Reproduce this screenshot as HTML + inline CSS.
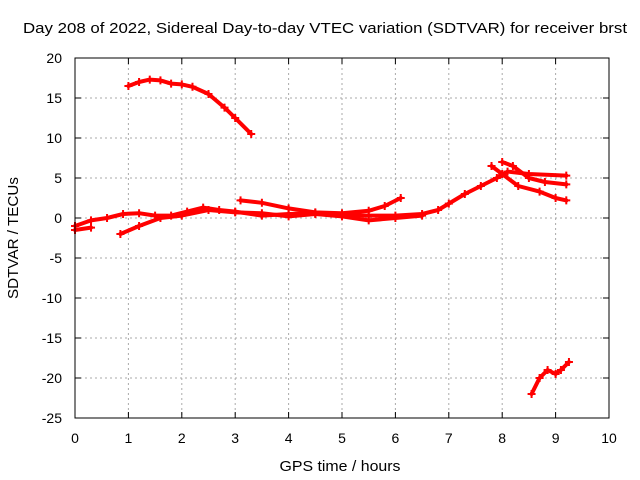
<!DOCTYPE html>
<html><head><meta charset="utf-8"><style>
html,body{margin:0;padding:0;background:#fff}
svg{display:block;font-family:"Liberation Sans",sans-serif}
</style></head><body>
<svg id="chart" width="640" height="480" viewBox="0 0 640 480">
<rect width="640" height="480" fill="#fff"/>
<g id="grid"></g>
<g id="series"></g>
<rect x="75" y="58" width="534" height="360" fill="none" stroke="#000" stroke-width="1"/>
<g id="ticks"></g>
<text x="325" y="33" text-anchor="middle" font-size="15" textLength="604" lengthAdjust="spacingAndGlyphs">Day 208 of 2022, Sidereal Day-to-day VTEC variation (SDTVAR) for receiver brst</text>
<text x="340" y="471" text-anchor="middle" font-size="15" textLength="121" lengthAdjust="spacingAndGlyphs">GPS time / hours</text>
<text transform="translate(18,238) rotate(-90)" text-anchor="middle" font-size="15" textLength="122" lengthAdjust="spacingAndGlyphs">SDTVAR / TECUs</text>
</svg>
<script>
const xTicks=[0,1,2,3,4,5,6,7,8,9,10];
const yTicks=[20,15,10,5,0,-5,-10,-15,-20,-25];
const trackTop=[[1.0,16.5],[1.2,17],[1.4,17.3],[1.6,17.2],[1.8,16.8],[2.0,16.7],[2.2,16.4],[2.5,15.5],[2.8,13.8],[3.0,12.5],[3.3,10.5]];
const trackMain=[[0,-1],[0.3,-0.3],[0.6,0],[0.9,0.5],[1.2,0.6],[1.5,0.3],[1.8,0.3],[2.1,0.8],[2.4,1.3],[2.7,1],[3,0.8],[3.5,0.3],[4,0.5],[4.5,0.6],[5,0.4],[5.5,0.3],[6,0.3],[6.5,0.5],[6.8,1],[7,1.8],[7.3,3],[7.6,4],[7.9,5],[8.1,5.8],[8.5,5.5],[9.2,5.3]];
const trackLow=[[0.85,-2],[1.2,-1],[1.6,0],[2,0.3],[2.5,1],[3,0.7],[3.5,0.6],[4,0.2],[4.5,0.5],[5,0.2],[5.5,-0.3],[6,0],[6.5,0.3]];
const trackMid=[[3.1,2.2],[3.5,1.9],[4,1.2],[4.5,0.7],[5,0.6],[5.5,0.9],[5.8,1.5],[6.1,2.5]];
const trackDrop=[[7.8,6.5],[8.0,5.5],[8.3,4],[8.7,3.3],[9,2.5],[9.2,2.2]];
const trackHigh=[[8.0,7],[8.2,6.5],[8.5,5],[8.8,4.5],[9.2,4.2]];
const trackStart=[[0,-1.5],[0.3,-1.2]];
const trackNeg=[[8.55,-22],[8.7,-20],[8.85,-19],[9.0,-19.5],[9.1,-19],[9.25,-18]];
const tracks=[trackTop,trackMain,trackLow,trackMid,trackDrop,trackHigh,trackStart,trackNeg];
const X=v=>75+v*53.4, Y=v=>58+(20-v)*8;
const NS="http://www.w3.org/2000/svg";
const grid=document.getElementById('grid'),ticks=document.getElementById('ticks'),ser=document.getElementById('series');
function mk(t,a,p){const e=document.createElementNS(NS,t);for(const k in a)e.setAttribute(k,a[k]);p.appendChild(e);return e;}
xTicks.forEach(v=>{
 const g=mk('line',{x1:X(v),x2:X(v),y1:58,y2:418,stroke:'#aaa','stroke-dasharray':'2,3','stroke-width':1},grid);
 
 
 mk('line',{x1:X(v),x2:X(v),y1:418,y2:412,stroke:'#000'},ticks);
 mk('line',{x1:X(v),x2:X(v),y1:58,y2:64,stroke:'#000'},ticks);
 const t=mk('text',{x:X(v),y:443,'text-anchor':'middle','font-size':14},ticks);t.textContent=v;
 
 
});
yTicks.forEach(v=>{
 const g=mk('line',{x1:75,x2:609,y1:Y(v),y2:Y(v),stroke:'#aaa','stroke-dasharray':'2,3','stroke-width':1},grid);
 
 
 mk('line',{x1:75,x2:81,y1:Y(v),y2:Y(v),stroke:'#000'},ticks);
 mk('line',{x1:603,x2:609,y1:Y(v),y2:Y(v),stroke:'#000'},ticks);
 const t=mk('text',{x:62,y:Y(v)+5,'text-anchor':'end','font-size':14},ticks);t.textContent=v;
 
 
});
tracks.forEach(tr=>{
 const p=mk('polyline',{points:tr.map(d=>X(d[0])+','+Y(d[1])).join(' '),fill:'none',stroke:'#f00','stroke-width':4,'stroke-linejoin':'round','stroke-linecap':'round'},ser);
 
 
 tr.forEach(d=>{
  const m=mk('path',{d:`M${X(d[0])-4},${Y(d[1])}h8M${X(d[0])},${Y(d[1])-4}v8`,stroke:'#f00','stroke-width':2},ser);
  
  
 });
});
</script>
</body></html>
